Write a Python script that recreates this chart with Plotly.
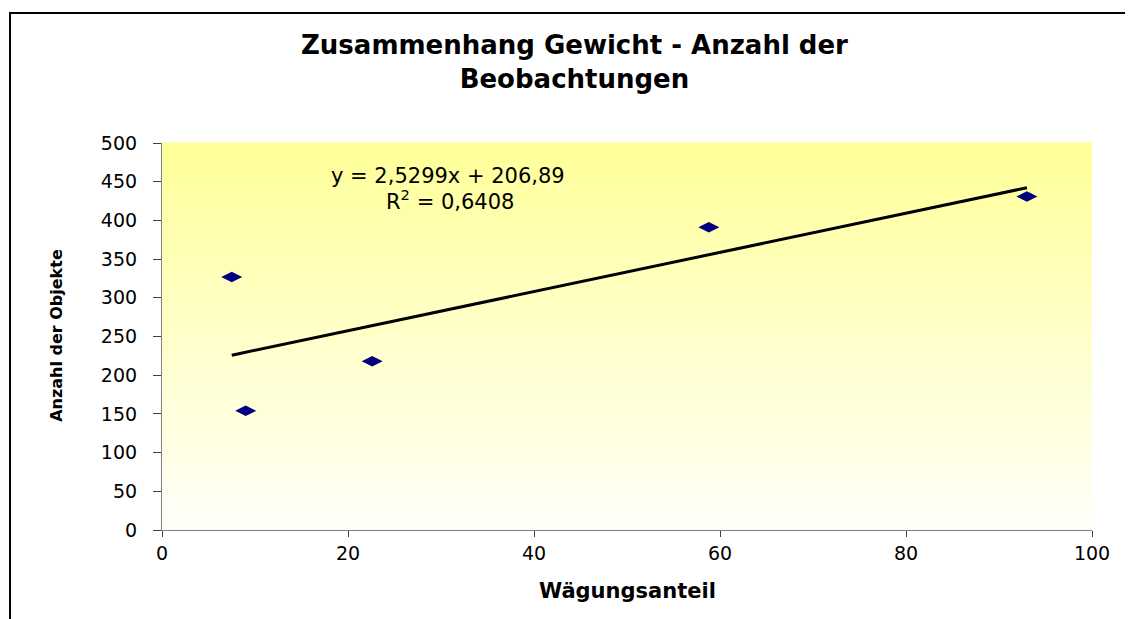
import plotly.graph_objects as go

# Data
weight_share = [7.5, 9.0, 22.6, 58.8, 93.0]
num_objects = [327, 154, 218, 391, 431]
slope = 2.5299
intercept = 206.89
r_squared = 0.6408
x_ticks = [0, 20, 40, 60, 80, 100]
y_ticks = [0, 50, 100, 150, 200, 250, 300, 350, 400, 450, 500]

FONT = "DejaVu Sans"

fig = go.Figure()

# trendline from min to max x using the regression coefficients
tx = [min(weight_share), max(weight_share)]
ty = [slope * v + intercept for v in tx]
fig.add_trace(go.Scatter(x=tx, y=ty, mode="lines",
                         line=dict(color="black", width=3), hoverinfo="skip"))
fig.add_trace(go.Scatter(x=weight_share, y=num_objects, mode="markers",
                         marker=dict(symbol="diamond-wide", size=15, color="#000080",
                                     line=dict(width=0))))

# gradient background (yellow top -> white bottom)
shapes = []
n = 80
top = (255, 255, 153)
bot = (255, 255, 250)
for i in range(n):
    t = (i + 0.5) / n  # 0 bottom -> 1 top
    c = tuple(int(round(bot[k] + (top[k] - bot[k]) * t)) for k in range(3))
    shapes.append(dict(type="rect", xref="x domain", yref="y domain",
                       x0=0, x1=1, y0=i / n, y1=(i + 1) / n + 0.002,
                       fillcolor="rgb(%d,%d,%d)" % c, line=dict(width=0),
                       layer="below"))
# outer chart border
shapes.append(dict(type="rect", xref="paper", yref="paper",
                   x0=-0.1634, x1=1.06, y0=-0.26, y1=1.336,
                   line=dict(color="black", width=2), fillcolor="rgba(0,0,0,0)"))

annotations = [
    dict(text="<b>Zusammenhang Gewicht - Anzahl der<br>Beobachtungen</b>",
         xref="paper", yref="paper", x=0.444, y=1.209, showarrow=False,
         xanchor="center", yanchor="middle",
         font=dict(family=FONT, size=26, color="black")),
    dict(text="<b>Anzahl der Objekte</b>", xref="paper", yref="paper",
         x=-0.113, y=0.504, textangle=-90, showarrow=False,
         xanchor="center", yanchor="middle",
         font=dict(family=FONT, size=16, color="black")),
    dict(text="<b>Wägungsanteil</b>", xref="paper", yref="paper",
         x=0.5, y=-0.158, showarrow=False, xanchor="center", yanchor="middle",
         font=dict(family=FONT, size=21, color="black")),
    dict(text="y = %sx + %s" % (str(slope).replace(".", ","),
                                str(intercept).replace(".", ",")),
         xref="x", yref="y", x=30.7, y=458, showarrow=False,
         xanchor="center", yanchor="middle",
         font=dict(family=FONT, size=21, color="black")),
    dict(text="R<sup>2</sup> = %s" % str(r_squared).replace(".", ","),
         xref="x", yref="y", x=31.0, y=427, showarrow=False,
         xanchor="center", yanchor="middle",
         font=dict(family=FONT, size=21, color="black")),
]

fig.update_layout(
    width=1125, height=611,
    margin=dict(l=154, r=41, t=135, b=89),
    paper_bgcolor="white", plot_bgcolor="white",
    showlegend=False,
    shapes=shapes, annotations=annotations,
    font=dict(family=FONT, size=19, color="black"),
)
fig.update_xaxes(range=[0, 100], tickvals=x_ticks, ticktext=[str(v) for v in x_ticks],
                 showgrid=False, zeroline=False, showline=True, linecolor="#808080",
                 linewidth=1, ticks="outside", ticklen=6, tickcolor="#404040",
                 tickfont=dict(family=FONT, size=19, color="black"))
fig.update_yaxes(range=[0, 500], tickvals=y_ticks,
                 ticktext=[str(v) + "\u00a0\u00a0" for v in y_ticks],
                 showgrid=False, zeroline=False, showline=True, linecolor="#808080",
                 linewidth=1, ticks="outside", ticklen=8, tickcolor="#404040",
                 tickfont=dict(family=FONT, size=19, color="black"))

fig.write_html("out.html")
